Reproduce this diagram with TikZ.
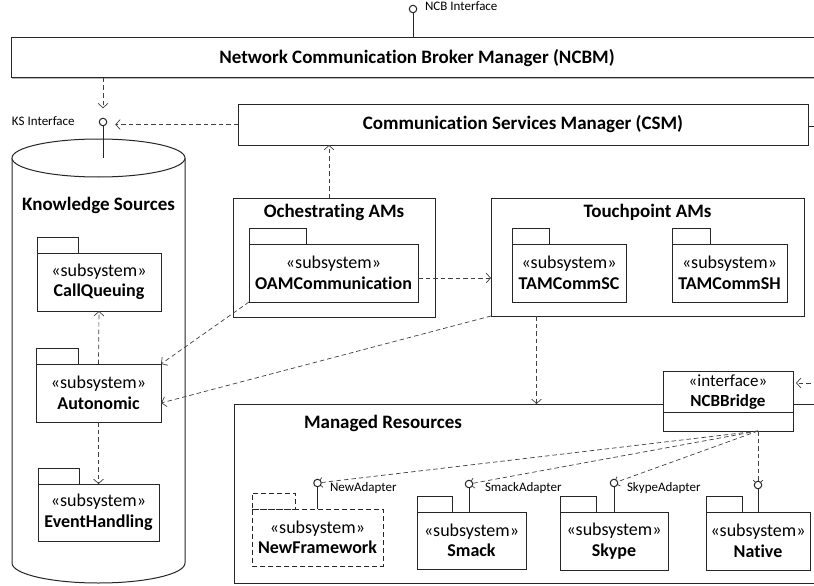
\documentclass[tikz,border=0pt]{standalone}
\usepackage{fontspec}
\setmainfont{Carlito}[Ligatures=NoCommon]
\usetikzlibrary{arrows.meta,shadows}
\newcommand{\umlpkg}[7][]{%
  \node[pkgbody,#1,minimum width=#4pt,minimum height=#5pt] (#2) at (#3) {«subsystem»\\\textbf{#7}};
  \node[pkgtab,#1,minimum width=#6pt,minimum height=16pt,anchor=south west] (#2tab) at (#2.north west) {};}
\begin{document}
\begin{tikzpicture}[x=1pt,y=-1pt,
  every node/.style={inner sep=0pt, outer sep=0pt},
  ln/.style={line width=1pt, draw=black!85},
  box/.style={ln, fill=white, rectangle},
  sh/.style={drop shadow={shadow xshift=0.8pt, shadow yshift=-1.3pt, opacity=0.45, fill=black!60}},
  ttl/.style={font=\fontsize{19}{22}\selectfont\bfseries},
  pkgbody/.style={box, align=center, font=\fontsize{18}{20.5}\selectfont},
  pkgtab/.style={box},
  dsh/.style={dash pattern=on 5pt off 3pt},
  lolly/.style={circle, ln, fill=white, minimum size=7.5pt},
  lbl/.style={font=\fontsize{13}{15}\selectfont, anchor=west},
  dep/.style={draw=black!75, line width=0.7pt, dash pattern=on 4.5pt off 3pt, -{Straight Barb[length=4.5pt,width=10pt]}},
]
\fill[white] (0,0) rectangle (814,586);
\useasboundingbox (0,0) rectangle (814,586);

% NCBM
\node[box, sh, minimum width=812pt, minimum height=40pt, ttl] (ncbm) at (417,58) {Network Communication Broker Manager (NCBM)};
\node[lolly] (ncb) at (413,9) {};
\draw[ln] (ncb.south) -- (ncb.south |- ncbm.north);
\node[lbl] (ncblbl) at (425,6) {NCB Interface};

% CSM
\node[box, sh, minimum width=570pt, minimum height=41pt, ttl] (csm) at (523,124.5) {Communication Services Manager (CSM)};
\coordinate (csmstub) at (818,126);
\draw[ln] (csm.east |- csmstub) -- (csmstub);

% Knowledge sources cylinder
\draw[ln, fill=white] (12,158) -- (12,563) arc[start angle=180, end angle=360, x radius=86.5pt, y radius=20pt] -- (185,158);
\draw[ln, fill=white] (98.5,158) ellipse [x radius=86.5pt, y radius=19pt];
\node[ttl] (kstitle) at (98.5,205) {Knowledge Sources};
\node[lolly] (ks) at (103,122) {};
\coordinate (kstop) at (103,158);
\draw[ln] (ks.south) -- (kstop);
\node[lbl] (kslbl) at (12,121) {KS Interface};

\umlpkg{cq}{99,282}{124}{58}{41}{CallQueuing}
\umlpkg{auto}{98.5,393}{125}{58}{42}{Autonomic}
\umlpkg{eh}{98.5,512.5}{121}{57}{41}{EventHandling}

% Orchestrating AMs
\node[box, sh, minimum width=202pt, minimum height=119pt] (orch) at (334,257.5) {};
\node[ttl] (orchtitle) at (334,212) {Ochestrating AMs};
\umlpkg{oam}{333.5,273}{169}{58}{57}{OAMCommunication}

% Touchpoint AMs
\node[box, sh, minimum width=313pt, minimum height=118pt] (tp) at (647.5,257) {};
\node[ttl] (tptitle) at (647.5,212) {Touchpoint AMs};
\umlpkg{tsc}{569,273}{114}{58}{37}{TAMCommSC}
\umlpkg{tsh}{729.5,273}{115}{58}{38}{TAMCommSH}

% Managed Resources
\node[box, sh, minimum width=596pt, minimum height=179pt] (mr) at (532,493.5) {};
\node[ttl] (mrtitle) at (383,423) {Managed Resources};

% NCBBridge
\node[box, minimum width=130pt, minimum height=60pt] (br) at (728,401) {};
\node[align=center, font=\fontsize{17}{20}\selectfont] (brtext) at (728,392) {«interface»\\\textbf{NCBBridge}};
\draw[ln] (br.west |- 0,412) -- (br.east |- 0,412);

\umlpkg[dsh]{nf}{317.5,537.5}{131}{57}{43}{NewFramework}
\umlpkg{sm}{471.5,540.5}{109}{57}{35}{Smack}
\umlpkg{sk}{614,541}{108}{58}{36}{Skype}
\umlpkg{nat}{758,541}{104}{58}{36}{Native}

% adapters
\coordinate (src) at (758,431);
\draw[dep] (src) -- (317.5,483);
\draw[dep] (src) -- (469,484);
\draw[dep] (src) -- (614,483);
\draw[dep] (src) -- (758,485);
\node[lolly] (na) at (317.5,483) {};
\node[lolly] (sa) at (469,484) {};
\node[lolly] (ska) at (614,483) {};
\node[lolly] (nta) at (758,485) {};
\draw[ln] (na.south) -- (nf.north);
\draw[ln] (sa.south) -- (sa.south |- sm.north);
\draw[ln] (ska.south) -- (sk.north);
\draw[ln] (nta.south) -- (nat.north);
\node[lbl] (nalbl) at (330,488) {NewAdapter};
\node[lbl] (salbl) at (485,488) {SmackAdapter};
\node[lbl] (skalbl) at (627,488) {SkypeAdapter};

% dependencies
\coordinate (rin) at (818,383);
\draw[dep, shorten >=3pt] (rin) -- (rin -| br.east);
\draw[dep, shorten >=10pt] (ncbm.south -| ks) -- (ks.north);
\draw[dep, shorten >=8.5pt] (csm.west) -- (csm.west -| ks.east);
\draw[dep] ([xshift=-5pt]orch.north) -- ([xshift=-5pt]orch.north |- csm.south);
\draw[dep] ([yshift=-5pt]oam.east) -- ([yshift=-5pt]oam.east -| tp.west);
\draw[dep] (oam.south west) -- (auto.north east);
\draw[dep] (tp.south west) -- ([yshift=-10pt]auto.east);
\draw[dep] ([xshift=-111pt]tp.south) -- ([xshift=-111pt]tp.south |- mr.north);
\draw[dep] (auto.north) -- (cq.south);
\draw[dep] (auto.south) -- (eh.north);
\end{tikzpicture}
\end{document}
